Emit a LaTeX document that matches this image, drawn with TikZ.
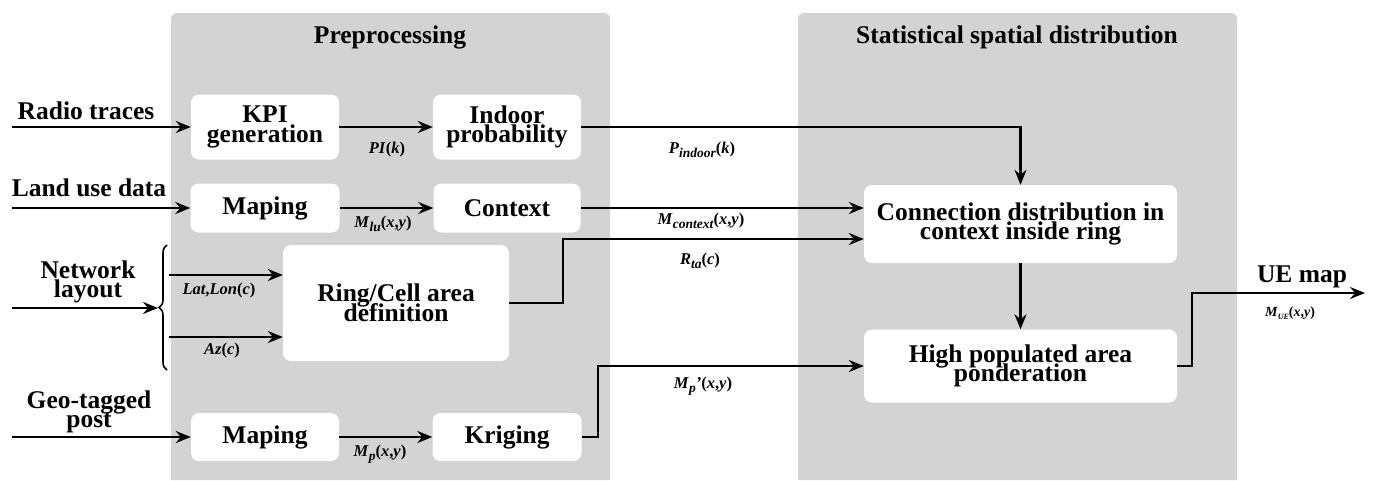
\documentclass[tikz,border=0pt]{standalone}
\usepackage{fontspec}
\setmainfont{Liberation Serif}
\usetikzlibrary{calc,arrows.meta,decorations.pathreplacing}
\definecolor{panelgray}{RGB}{211,211,211}
\newcommand{\bigtext}{\fontsize{25.5}{19.5}\selectfont\bfseries\lineskiplimit=-30pt}
\newcommand{\lsub}[1]{\raisebox{-0.5ex}{\fontsize{13.5}{13.5}\selectfont\textit{#1}}}
\tikzset{>={Stealth[length=15pt,width=12pt,inset=5pt]}}
\tikzset{
  panel/.style={fill=panelgray,rounded corners=6pt},
  block/.style={fill=white,rounded corners=8pt,align=center,inner sep=0pt,font=\bigtext},
  intext/.style={align=center,inner sep=0pt,font=\bigtext},
  lbl/.style={inner sep=0pt,font=\fontsize{16.5}{18}\selectfont\bfseries},
  flow/.style={->,line width=2.2pt}
}

\begin{document}
\begin{tikzpicture}[x=1pt,y=1pt]
        \useasboundingbox (0,0) rectangle (1373,-480);
        % panels
        \fill[panel] (171,-480) -- (171,-13) -- (610,-13) -- (610,-480);
        \fill[panel] (798,-480) -- (798,-13) -- (1237,-13) -- (1237,-480);
        \node[intext,anchor=base] (pretitle) at (390,-43) {Preprocessing};
        \node[intext,anchor=base] (stattitle) at (1017,-43) {Statistical spatial distribution};

        % blocks
        \node[block,minimum width=148pt,minimum height=65pt] (kpi) at (265,-127) {KPI\\generation};
        \node[block,minimum width=148pt,minimum height=65pt] (indoor) at (507,-127) {Indoor\\probability};
        \node[block,minimum width=149pt,minimum height=49pt] (maplu) at (265,-208) {Maping};
        \node[block,minimum width=147pt,minimum height=49pt] (context) at (507,-208) {Context};
        \node[block,minimum width=226pt,minimum height=116pt] (ring) at (396,-303) {Ring/Cell area\\definition};
        \node[block,minimum width=148pt,minimum height=48pt] (mapgeo) at (265,-437) {Maping};
        \node[block,minimum width=149pt,minimum height=48pt] (kriging) at (507,-437) {Kriging};
        \node[block,minimum width=313pt,minimum height=78pt] (conn) at (1020.5,-224) {Connection distribution in\\context inside ring};
        \node[block,minimum width=313pt,minimum height=73pt] (high) at (1020.5,-366) {High populated area\\ponderation};

        % inputs
        \node[intext,anchor=base] (radio) at (86,-119) {Radio traces};
        \node[intext,anchor=base] (land) at (89,-196) {Land use data};
        \node[intext] (network) at (88,-282) {Network\\layout};
        \node[intext] (geo) at (89,-412) {Geo-tagged\\post};
        \coordinate (radioin) at (12,-127);
        \coordinate (landin) at (12,-208);
        \coordinate (netin) at (12,-308);
        \coordinate (geoin) at (12,-437);
        \coordinate (bracetop) at (167,-245);
        \coordinate (bracebot) at (167,-370);
        \coordinate (latin) at (169,-275);
        \coordinate (azin) at (169,-337);
        \draw[flow] (radioin) -- (kpi);
        \draw[flow] (landin) -- (maplu);
        \draw[flow] (geoin) -- (mapgeo);
        \draw[flow] (netin) -- (158,-308);
        \draw[line width=1.6pt,decorate,decoration={brace,amplitude=8pt}] (bracebot) -- (bracetop);
        \draw[flow] (latin) -- (latin -| ring.west);
        \draw[flow] (azin) -- (azin -| ring.west);

        % preprocessing links
        \draw[flow] (kpi) -- (indoor);
        \draw[flow] (maplu) -- (context);
        \draw[flow] (mapgeo) -- (kriging);

        % to the distribution blocks
        \coordinate (rtastep) at (563,-239);
        \coordinate (mpstep) at (598,-366);
        \coordinate (uestep) at (1192,-293);
        \coordinate (ueout) at (1365,-293);
        \draw[flow] (indoor) -| (conn);
        \draw[flow] (context) -- (context -| conn.west);
        \draw[flow] (ring.east) -| (rtastep) -- (rtastep -| conn.west);
        \draw[flow] (kriging) -| (mpstep) -- (high);
        \draw[flow] (conn) -- (high);
        \draw[flow] (high.east) -| (uestep) -- (ueout);
        \node[intext,anchor=base] (uemap) at (1302,-282) {UE map};

        % labels
        \node[lbl] (pik) at (387,-150) {\textit{PI}(\textit{k})};
        \node[lbl] (mlu) at (383,-224) {\textit{M}\lsub{lu}(\textit{x},\textit{y})};
        \node[lbl] (pindoor) at (702,-150) {\textit{P}\lsub{indoor}(\textit{k})};
        \node[lbl] (mcontext) at (701,-221) {\textit{M}\lsub{context}(\textit{x},\textit{y})};
        \node[lbl] (rta) at (700,-261) {\textit{R}\lsub{ta}(\textit{c})};
        \node[lbl] (mpp) at (703,-386) {\textit{M}\lsub{p}\textit{'}(\textit{x},\textit{y})};
        \node[lbl] (mp) at (380,-454) {\textit{M}\lsub{p}(\textit{x},\textit{y})};
        \node[lbl] (latlon) at (219,-291) {\textit{Lat},\textit{Lon}(\textit{c})};
        \node[lbl] (az) at (222,-351) {\textit{Az}(\textit{c})};
        \node[lbl,font=\fontsize{14}{15}\selectfont\bfseries] (mue) at (1290,-313) {\textit{M}\raisebox{-0.5ex}{\fontsize{8}{8}\selectfont\textit{UE}}(\textit{x},\textit{y})};
\end{tikzpicture}
\end{document}
